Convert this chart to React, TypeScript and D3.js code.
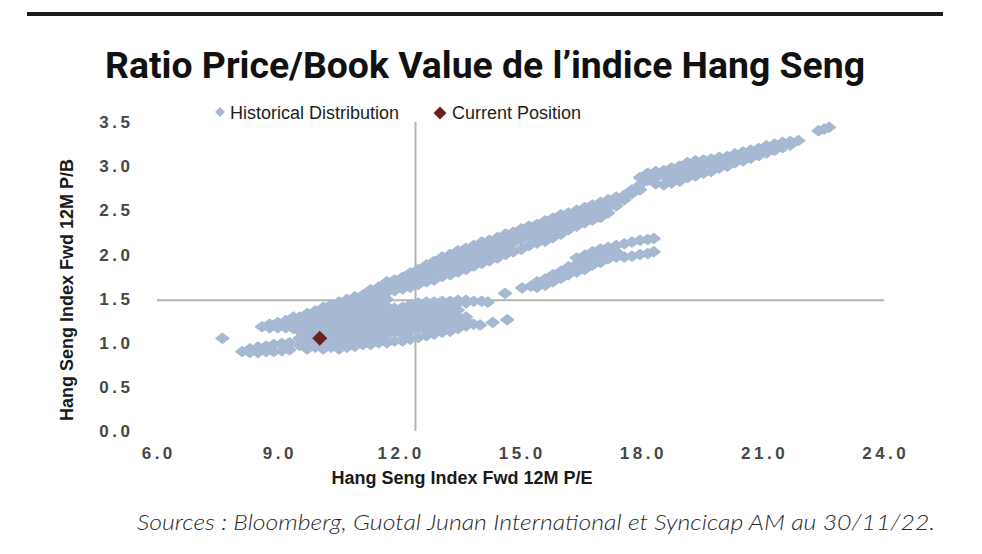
import React from "react";
import * as d3 from "d3";

// ---------- data ----------
const xTicks = [6, 9, 12, 15, 18, 21, 24];
const yTicks = [0, 0.5, 1, 1.5, 2, 2.5, 3, 3.5];

// Historical distribution: columns of [P/E, list of P/B values]
const lowerTongue: [number, number[]][] = [
  [8.11, [0.9]],
  [8.3, [0.89, 0.93]],
  [8.5, [0.89, 0.95]],
  [8.7, [0.9, 0.96]],
  [8.89, [0.9, 0.98]],
  [9.09, [0.91, 0.99]],
  [9.28, [0.92, 1.0]],
];
const upperTongue: [number, number[]][] = [
  [8.6, [1.18]],
  [8.79, [1.17, 1.21]],
  [8.99, [1.17, 1.23]],
  [9.19, [1.17, 1.25]],
  [9.38, [1.16, 1.23, 1.29]],
];
const mainBody: [number, number[]][] = [
  [9.53, [0.97, 1.05, 1.13, 1.21, 1.29]],
  [9.72, [0.93, 1.01, 1.09, 1.17, 1.25, 1.33]],
  [9.92, [0.95, 1.05, 1.13, 1.21, 1.29, 1.36]],
  [10.12, [0.93, 1.01, 1.09, 1.17, 1.25, 1.33, 1.4]],
  [10.31, [0.95, 1.05, 1.13, 1.21, 1.29, 1.37, 1.43]],
  [10.51, [0.93, 1.01, 1.09, 1.17, 1.25, 1.33, 1.41, 1.46]],
  [10.7, [0.95, 1.05, 1.13, 1.21, 1.29, 1.37, 1.45, 1.49]],
  [10.9, [0.96, 1.01, 1.09, 1.17, 1.25, 1.33, 1.41, 1.49, 1.52]],
  [11.1, [0.98, 1.05, 1.13, 1.21, 1.29, 1.37, 1.45, 1.54]],
  [11.29, [0.98, 1.02, 1.09, 1.17, 1.25, 1.33, 1.41, 1.49, 1.57, 1.6]],
  [11.49, [1.0, 1.05, 1.13, 1.21, 1.29, 1.37, 1.45, 1.53, 1.61, 1.63]],
  [11.69, [1.0, 1.09, 1.17, 1.25, 1.33, 1.41, 1.49, 1.57, 1.65, 1.69]],
];
const lowerCluster: [number, number[]][] = [
  [11.88, [1.02, 1.13, 1.21, 1.29, 1.37, 1.39]],
  [12.08, [1.02, 1.09, 1.17, 1.25, 1.33, 1.4]],
  [12.27, [1.04, 1.13, 1.21, 1.29, 1.37, 1.43]],
  [12.47, [1.06, 1.17, 1.25, 1.33, 1.41, 1.45]],
  [12.67, [1.08, 1.13, 1.21, 1.29, 1.37, 1.46]],
  [12.86, [1.1, 1.17, 1.25, 1.33, 1.41, 1.46]],
  [13.06, [1.12, 1.21, 1.29, 1.37, 1.45, 1.47]],
  [13.26, [1.13, 1.17, 1.25, 1.33, 1.41, 1.47]],
  [13.45, [1.16, 1.21, 1.29, 1.37, 1.45, 1.48]],
  [13.65, [1.19, 1.25, 1.29, 1.45, 1.48]],
  [13.84, [1.21, 1.47]],
  [14.0, [1.2]],
  [14.04, [1.47]],
  [14.19, [1.46]],
  [14.31, [1.23]],
  [14.67, [1.26]],
];
const upperBand: [number, number[]][] = [
  [11.88, [1.59, 1.65, 1.71]],
  [12.08, [1.61, 1.65, 1.74]],
  [12.27, [1.63, 1.69, 1.77, 1.79]],
  [12.47, [1.66, 1.73, 1.81, 1.83]],
  [12.67, [1.69, 1.77, 1.85, 1.88]],
  [12.86, [1.71, 1.81, 1.89, 1.92]],
  [13.06, [1.75, 1.85, 1.93, 1.97]],
  [13.26, [1.77, 1.81, 1.89, 1.97, 2.0]],
  [13.45, [1.8, 1.85, 1.93, 2.01, 2.04]],
  [13.65, [1.83, 1.89, 1.97, 2.05, 2.07]],
  [13.84, [1.87, 1.93, 2.01, 2.1]],
  [14.04, [1.9, 1.97, 2.05, 2.14]],
  [14.23, [1.93, 2.01, 2.09, 2.16]],
  [14.43, [1.96, 2.05, 2.13, 2.19]],
  [14.63, [2.0, 2.09, 2.17, 2.23]],
  [14.82, [2.03, 2.13, 2.21, 2.25]],
  [15.02, [2.06, 2.17, 2.25, 2.29]],
  [15.21, [2.1, 2.21, 2.29, 2.32]],
  [15.41, [2.13, 2.17, 2.25, 2.34]],
  [15.61, [2.15, 2.21, 2.29, 2.38]],
  [15.8, [2.19, 2.25, 2.33, 2.41]],
  [16.0, [2.23, 2.29, 2.37, 2.45]],
  [16.19, [2.28, 2.33, 2.41, 2.47]],
  [16.39, [2.32, 2.37, 2.45, 2.5]],
  [16.59, [2.36, 2.41, 2.49, 2.53]],
  [16.78, [2.39, 2.45, 2.53, 2.56]],
  [16.98, [2.42, 2.49, 2.57, 2.59]],
  [17.17, [2.47, 2.53, 2.62]],
  [17.37, [2.55, 2.6, 2.65]],
  [17.57, [2.62, 2.67]],
  [17.76, [2.69, 2.73]],
  [17.96, [2.73, 2.79, 2.87]],
];
const lowerBand: [number, number[]][] = [
  [14.62, [1.56]],
  [15.04, [1.62]],
  [15.26, [1.64]],
  [15.41, [1.63, 1.69]],
  [15.61, [1.65, 1.72]],
  [15.8, [1.69, 1.77]],
  [16.0, [1.73, 1.81]],
  [16.19, [1.77, 1.86]],
  [16.39, [1.8, 1.89, 1.96]],
  [16.59, [1.83, 1.93, 1.99]],
  [16.78, [1.88, 1.97, 2.03]],
  [16.98, [1.91, 2.0, 2.06]],
  [17.17, [1.95, 2.02, 2.08]],
  [17.37, [1.97, 2.03, 2.1]],
  [17.57, [1.97, 2.12]],
  [17.76, [1.98, 2.14]],
  [17.96, [2.0, 2.16]],
  [18.15, [2.01, 2.17]],
  [18.3, [2.03, 2.18]],
];
const topBand: [number, number[]][] = [
  [18.15, [2.84, 2.92]],
  [18.35, [2.8, 2.87, 2.94]],
  [18.55, [2.79, 2.89, 2.95]],
  [18.74, [2.81, 2.85, 2.93, 2.98]],
  [18.94, [2.83, 2.89, 2.97, 3.0]],
  [19.13, [2.87, 2.93, 3.01, 3.04]],
  [19.33, [2.89, 2.97, 3.06]],
  [19.53, [2.92, 3.01, 3.07]],
  [19.72, [2.94, 3.01, 3.08]],
  [19.92, [2.98, 3.04, 3.1]],
  [20.12, [3.0, 3.05, 3.11]],
  [20.31, [3.04, 3.09, 3.14]],
  [20.51, [3.06, 3.11, 3.16]],
  [20.7, [3.09, 3.14, 3.18]],
  [20.9, [3.12, 3.16, 3.2]],
  [21.09, [3.15, 3.19, 3.23]],
  [21.29, [3.18, 3.25]],
  [21.49, [3.21, 3.27]],
  [21.68, [3.24, 3.28]],
  [21.88, [3.29]],
];
const outliers: [number, number[]][] = [
  [7.62, [1.05]],
  [22.38, [3.4]],
  [22.52, [3.42]],
  [22.64, [3.44]],
];

const currentPosition: [number, number] = [10.03, 1.05];

// reference lines
const meanPE = 12.4;
const meanPB = 1.48;

// ---------- styles ----------
const BLUE = "#a7b9d2";
const RED = "#6e1f1f";
const LINE = "#b4b4ac";

function diamond(w: number, h: number) {
  return `M0,${-h}L${w},0L0,${h}L${-w},0Z`;
}

export default function App() {
  const x = d3.scaleLinear().domain([6, 24]).range([157, 884]);
  const y = d3.scaleLinear().domain([0, 3.5]).range([431, 122]);

  const groups = [lowerTongue, upperTongue, mainBody, lowerCluster, upperBand, lowerBand, topBand, outliers];
  const pts = groups.flatMap((g) => g.flatMap(([pe, pbs]) => pbs.map((pb) => [pe, pb] as [number, number])));

  const ls = 3.5;
  const markerPath = diamond(6.3, 4.9);

  return (
    <svg width={982} height={554} style={{ position: "absolute", left: 0, top: 0, background: "#fff" }}>
      <rect width={982} height={554} fill="#fff" />
      {/* top rule */}
      <line x1={27} x2={943} y1={14} y2={14} stroke="#1c1c1c" strokeWidth={4} />
      {/* title */}
      <text
        x={485}
        y={78}
        textAnchor="middle"
        fontFamily="Roboto, 'Liberation Sans', sans-serif"
        fontWeight={700}
        fontSize={36}
        fill="#111"
        textLength={760}
        lengthAdjust="spacingAndGlyphs"
      >
        Ratio Price/Book Value de l’indice Hang Seng
      </text>

      {/* legend */}
      <g fontFamily="'Liberation Sans', Arial, sans-serif" fontSize={18} fill="#1e1e1e">
        <path d={diamond(5, 5)} transform="translate(220,112)" fill={BLUE} />
        <text x={230} y={118.5}>Historical Distribution</text>
        <path d={diamond(6.5, 6.5)} transform="translate(440,113)" fill={RED} />
        <text x={452} y={118.5}>Current Position</text>
      </g>

      {/* tick labels */}
      <g fontFamily="'Liberation Sans', Arial, sans-serif" fontSize={17} fontWeight={700} fill="#474747" letterSpacing={ls}>
        {yTicks.map((t) => (
          <text key={t} x={130 + ls} y={y(t) + 6.2} textAnchor="end">
            {d3.format(".1f")(t)}
          </text>
        ))}
        {xTicks.map((t) => (
          <text key={"x" + t} x={x(t) + ls / 2} y={459} textAnchor="middle">
            {d3.format(".1f")(t)}
          </text>
        ))}
      </g>

      {/* reference lines */}
      <line x1={x(6)} x2={x(24)} y1={y(meanPB)} y2={y(meanPB)} stroke={LINE} strokeWidth={2} />
      <line x1={x(meanPE)} x2={x(meanPE)} y1={y(0)} y2={y(3.5)} stroke={LINE} strokeWidth={2} />

      {/* historical distribution */}
      <g fill={BLUE} stroke={BLUE} strokeWidth={1.6} strokeLinejoin="round">
        {pts.map(([pe, pb], i) => (
          <path key={i} d={markerPath} transform={`translate(${x(pe)},${y(pb)})`} />
        ))}
      </g>

      {/* current position */}
      <path
        d={diamond(7.5, 7.5)}
        transform={`translate(${x(currentPosition[0])},${y(currentPosition[1])})`}
        fill={RED}
      />

      {/* axis titles */}
      <text
        x={462}
        y={484}
        textAnchor="middle"
        fontFamily="'Liberation Sans', Arial, sans-serif"
        fontWeight={700}
        fontSize={18}
        fill="#1a1a1a"
      >
        Hang Seng Index Fwd 12M P/E
      </text>
      <text
        transform="translate(73,290) rotate(-90)"
        textAnchor="middle"
        fontFamily="'Liberation Sans', Arial, sans-serif"
        fontWeight={700}
        fontSize={18}
        fill="#1a1a1a"
      >
        Hang Seng Index Fwd 12M P/B
      </text>

      {/* source */}
      <text
        x={137}
        y={530}
        fontFamily="Lato, 'Open Sans', sans-serif"
        fontStyle="italic"
        fontWeight={300}
        fontSize={22}
        fill="#2a2a2a"
        textLength={798}
        lengthAdjust="spacingAndGlyphs"
      >
        Sources : Bloomberg, Guotal Junan International et Syncicap AM au 30/11/22.
      </text>
    </svg>
  );
}
